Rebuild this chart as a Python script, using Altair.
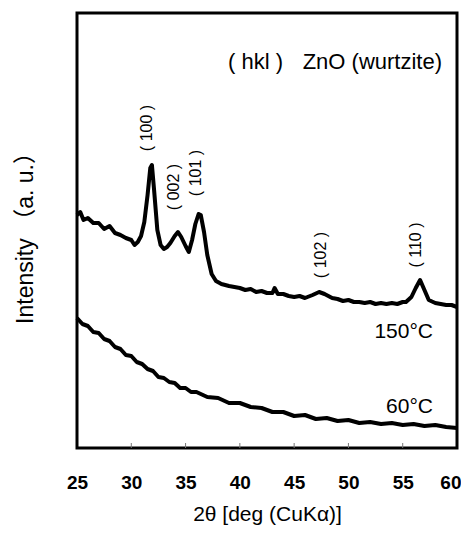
import altair as alt
import pandas as pd

# ---- data ----
two_theta_150 = [25.0, 25.3, 25.6, 26.0, 26.5, 27.0, 27.5, 28.0, 28.5, 29.0, 29.5, 30.0, 30.3, 30.6,
                 30.9, 31.2, 31.5, 31.75, 31.9, 32.1, 32.4, 32.7, 33.0, 33.3, 33.6, 34.0, 34.3, 34.6,
                 35.0, 35.3, 35.6, 35.9, 36.2, 36.4, 36.7, 37.0, 37.4, 37.8, 38.3, 39.0, 39.5, 40.0,
                 40.5, 41.0, 41.5, 42.0, 42.5, 43.0, 43.2, 43.5, 44.0, 44.5, 45.0, 45.5, 46.0, 46.7,
                 47.3, 47.8, 48.5, 49.0, 49.5, 50.0, 50.5, 51.0, 51.5, 52.0, 52.5, 53.0, 53.5, 54.0,
                 54.5, 55.0, 55.3, 55.8, 56.2, 56.6, 57.0, 57.4, 58.0, 58.5, 59.0, 59.5, 60.0]
intensity_150 = [233, 236, 228, 230, 225, 225, 219, 222, 215, 213, 210, 208, 203, 206,
                 212, 226, 253, 280, 283, 258, 218, 203, 199, 201, 205, 212, 216, 211,
                 202, 196, 208, 224, 234, 233, 216, 193, 174, 167, 164, 162, 161, 160,
                 158, 159, 156, 157, 155, 155, 160, 154, 154, 152, 151, 152, 150, 153,
                 156, 154, 150, 149, 147, 148, 146, 146, 145, 146, 144, 145, 144, 145,
                 144, 146, 146, 151, 160, 168, 158, 148, 145, 144, 143, 143, 141]

two_theta_60 = [25.0, 25.5, 26.0, 26.5, 27.0, 27.5, 28.0, 28.5, 29.0, 29.5, 30.0, 30.5, 31.0,
                31.5, 32.0, 32.5, 33.0, 33.5, 34.0, 34.5, 35.0, 35.5, 36.0, 37.0, 38.0, 39.0,
                40.0, 41.0, 42.0, 43.0, 44.0, 45.0, 46.0, 47.0, 48.0, 49.0, 50.0, 51.0, 52.0,
                53.0, 54.0, 55.0, 56.0, 57.0, 58.0, 59.0, 60.0]
intensity_60 = [130, 124, 122, 116, 115, 109, 107, 101, 99, 93, 92, 86, 84,
                79, 77, 71, 70, 66, 65, 60, 60, 56, 56, 51, 50, 45,
                45, 41, 40, 36, 36, 32, 33, 29, 30, 27, 28, 25, 26,
                24, 25, 23, 24, 22, 23, 21, 20]

x_ticks = [25, 30, 35, 40, 45, 50, 55, 60]
inner_ticks = [30, 35, 40, 45, 50, 55]

peak_labels = ["(\u00a0100\u00a0)", "(\u00a0002\u00a0)", "(\u00a0101\u00a0)", "(\u00a0102\u00a0)", "(\u00a0110\u00a0)"]
peak_label_x = [31.45, 33.98, 36.0, 47.43, 56.22]
peak_label_y = [320, 261, 275, 193, 203]

temp_labels = ["150°C", "60°C"]
temp_label_x = [57.79, 57.79]
temp_label_y = [116, 41]

# ---- tables ----
curves = pd.DataFrame({
    "x": two_theta_150 + two_theta_60,
    "y": intensity_150 + intensity_60,
    "series": ["150"] * len(two_theta_150) + ["60"] * len(two_theta_60),
})
ticks_df = pd.DataFrame({"x": inner_ticks})
peaks_df = pd.DataFrame({"x": peak_label_x, "y": peak_label_y, "t": peak_labels})
temps_df = pd.DataFrame({"x": temp_label_x, "y": temp_label_y, "t": temp_labels})
title_df = pd.DataFrame({"x": [58.62], "y": [386], "t": ["ZnO (wurtzite)"]})
hkl_df = pd.DataFrame({"x": [41.44], "y": [386], "t": ["(\u00a0hkl\u00a0)"]})

FONT = "Liberation Sans, Arial, Noto Sans CJK JP"
W, H = 380, 435

xscale = alt.Scale(domain=[25, 60], nice=False, zero=False)
yscale = alt.Scale(domain=[0, 435], nice=False, zero=False)

X_ENC = alt.X("x:Q", scale=xscale, axis=alt.Axis(
    values=x_ticks, title="2θ  [deg (CuKα)]", grid=False, domain=False,
    ticks=False, tickSize=0, labelPadding=25, labelFlush=False, labelOverlap=False,
    labelAlign={"condition": {"test": "datum.value == 60", "value": "right"}, "value": "center"},
    labelOffset={"condition": {"test": "datum.value == 60", "value": 4}, "value": 0},
    labelFont=FONT, labelFontSize=19, labelFontWeight="bold", labelColor="black",
    titleFont=FONT, titleFontSize=21, titleFontWeight="normal", titleColor="black",
    titleY=55, titleBaseline="top"))
Y_ENC = alt.Y("y:Q", scale=yscale, axis=alt.Axis(
    labels=False, ticks=False, domain=False, grid=False,
    title="Intensity （a. u.）", titleFont=FONT, titleFontSize=23,
    titleFontWeight="normal", titleColor="black", titleAngle=-90,
    titleX=-52, titleY=219, titleBaseline="middle", titleAlign="center"))

lines = alt.Chart(curves).mark_line(color="black", strokeWidth=4, strokeJoin="round").encode(
    x=X_ENC, y=Y_ENC, detail="series:N",
)

tick_rules = alt.Chart(ticks_df).mark_rule(color="#777777", strokeWidth=1).encode(
    x=X_ENC, y=alt.value(H), y2=alt.value(H - 5),
)

peak_text = alt.Chart(peaks_df).mark_text(
    angle=270, font=FONT, fontSize=16, color="black", align="center", baseline="middle"
).encode(x=X_ENC, y=Y_ENC, text="t:N")

temp_text = alt.Chart(temps_df).mark_text(
    font=FONT, fontSize=21, color="black", align="right", baseline="middle"
).encode(x=X_ENC, y=Y_ENC, text="t:N")

title_text = alt.Chart(title_df).mark_text(
    font=FONT, fontSize=22, color="black", align="right", baseline="middle"
).encode(x=X_ENC, y=Y_ENC, text="t:N")

hkl_text = alt.Chart(hkl_df).mark_text(
    font=FONT, fontSize=22, color="black", align="center", baseline="middle"
).encode(x=X_ENC, y=Y_ENC, text="t:N")

chart = alt.layer(lines, tick_rules, peak_text, temp_text, title_text, hkl_text).properties(
    width=W, height=H,
    autosize=alt.AutoSizeParams(type="none"),
    padding={"left": 69, "top": 5, "right": 4, "bottom": 77},
    background="white",
).configure_view(stroke="black", strokeWidth=3)

chart.save("out.html", embed_options={"renderer": "svg", "actions": False})
